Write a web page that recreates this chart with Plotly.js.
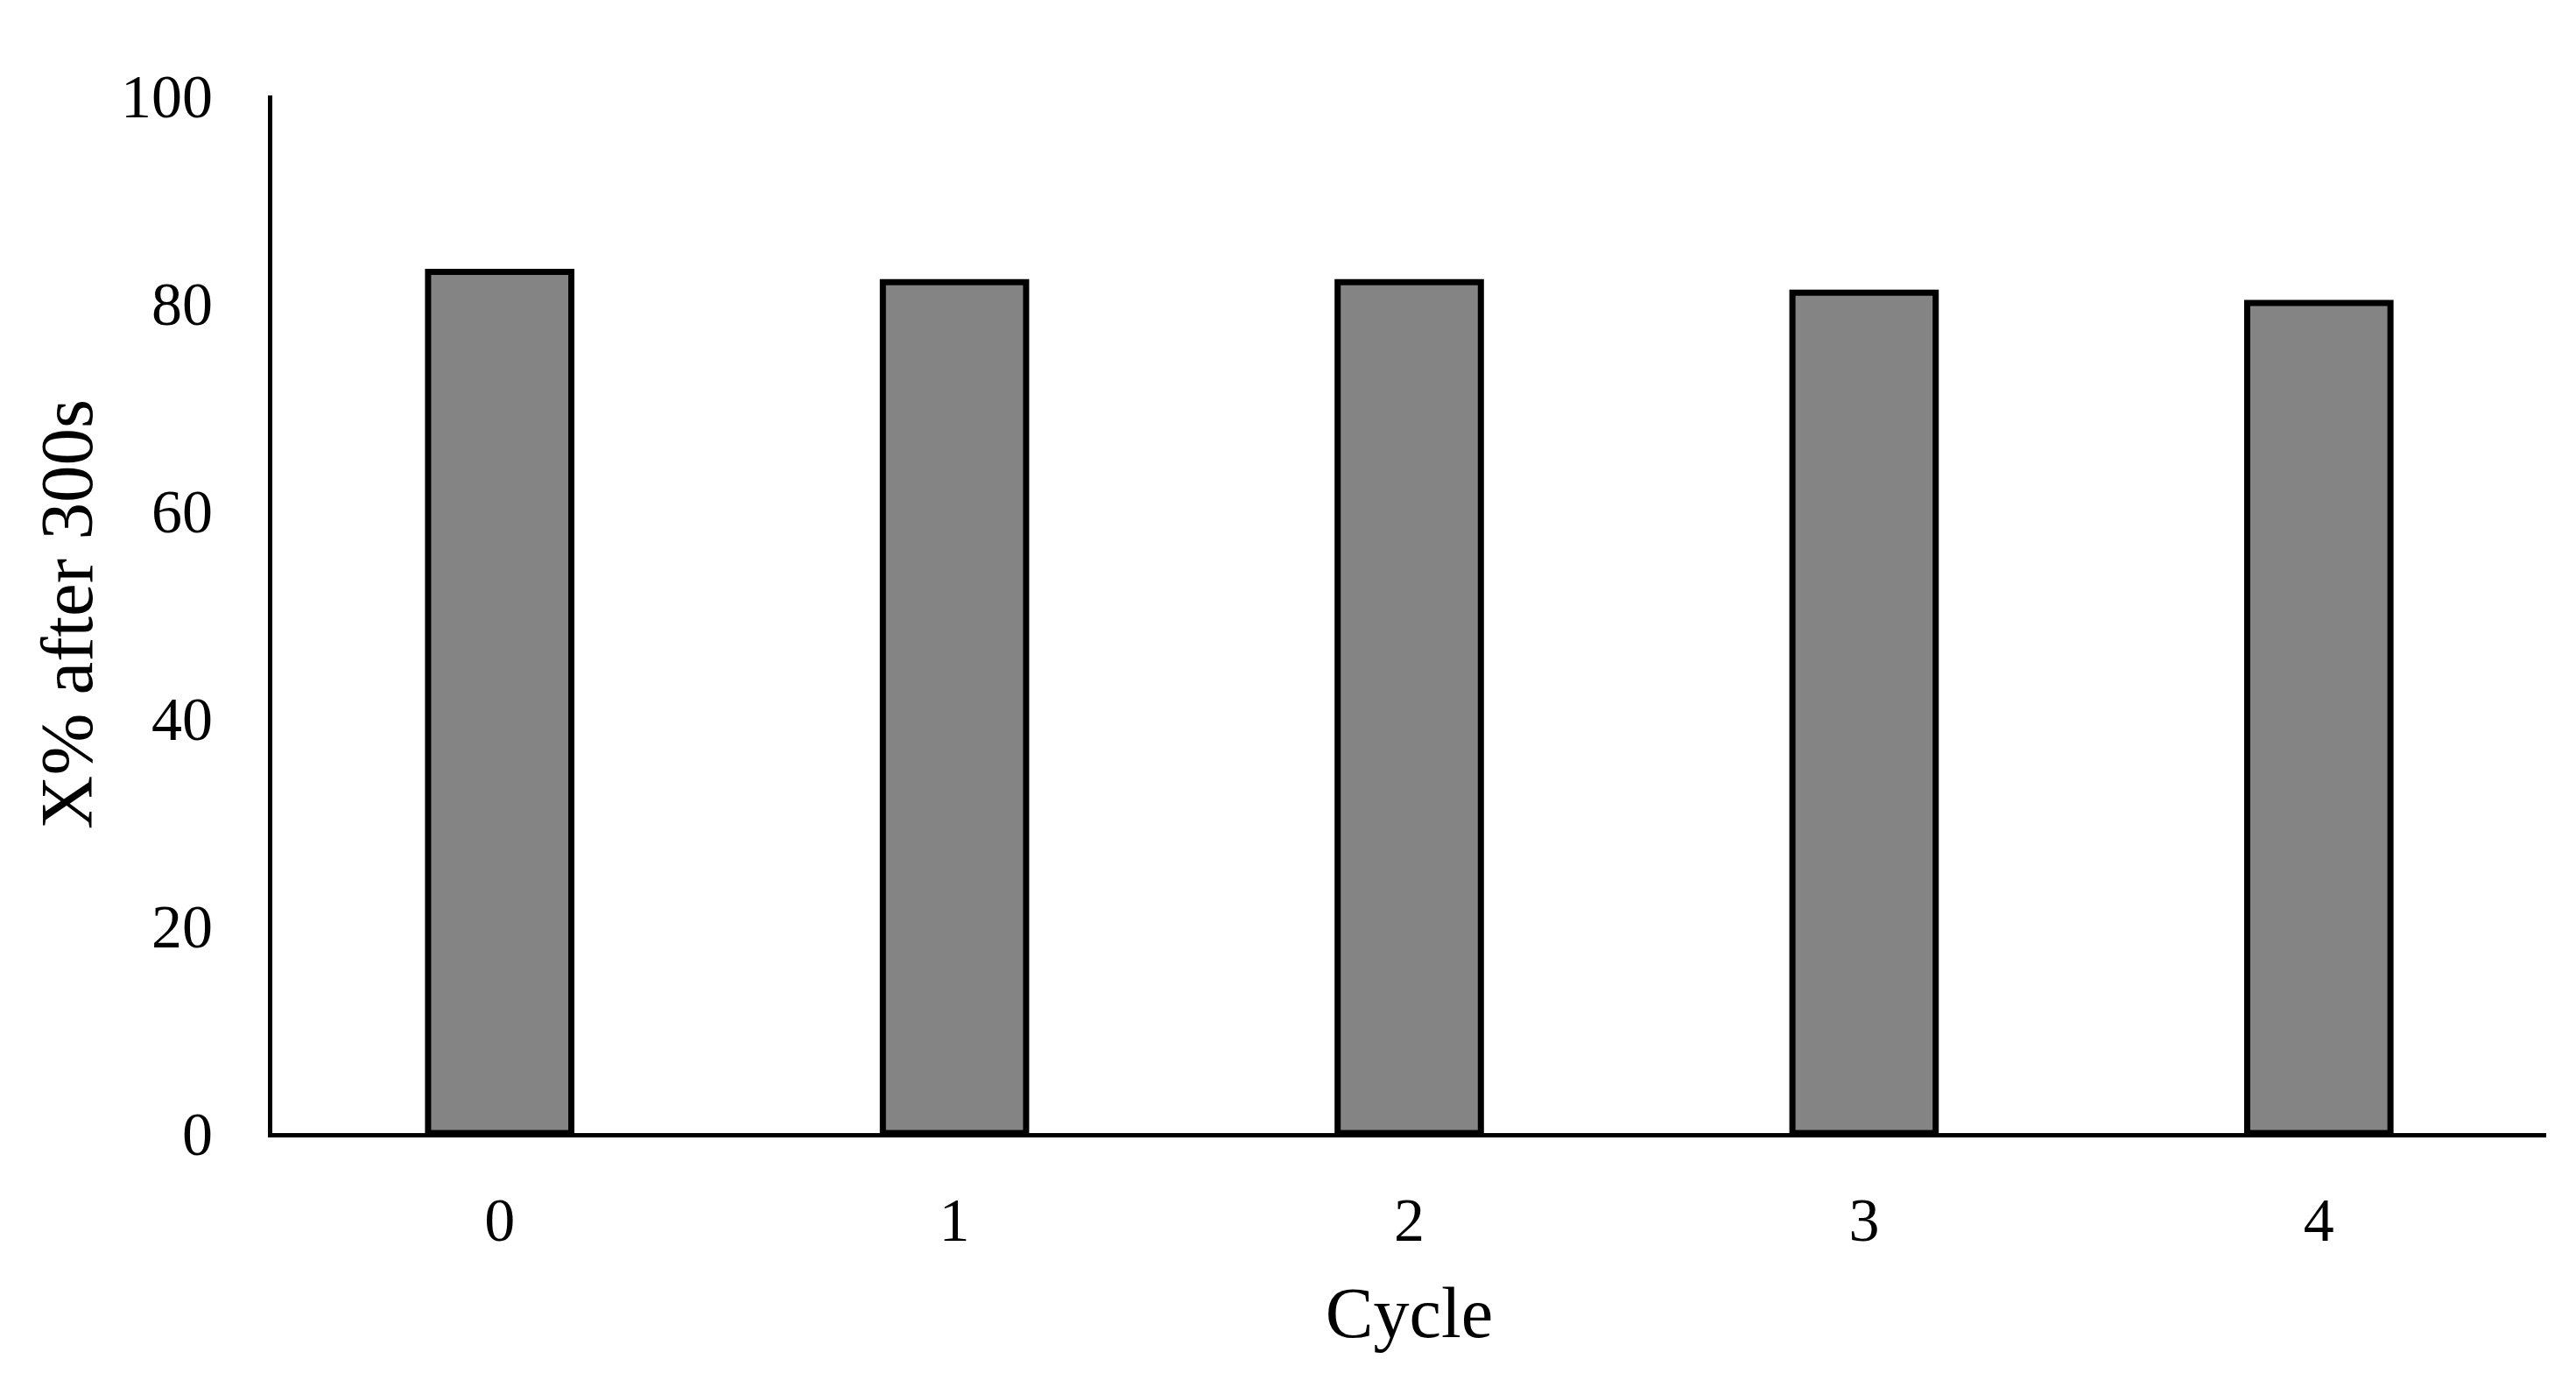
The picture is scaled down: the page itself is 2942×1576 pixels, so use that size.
<!DOCTYPE html>
<html>
<head>
<meta charset="utf-8">
<script src="https://cdn.plot.ly/plotly-3.0.1.min.js"></script>
<style>html,body{margin:0;padding:0;background:#fff;}#chart{width:2942px;height:1576px;}</style>
</head>
<body>
<div id="chart"></div>
<script>
const cycles = ["0", "1", "2", "3", "4"];
const conversion = [83, 82, 82, 81, 80];
const yTickVals = [0, 20, 40, 60, 80, 100];
const xTitle = "Cycle";
const yTitle = "X% after 300s";

const font = "Liberation Serif, Times New Roman, serif";

Plotly.newPlot("chart", [{
  type: "bar",
  x: cycles,
  y: conversion,
  marker: {color: "#848484", line: {color: "#000000", width: 7}},
  width: 0.315,
  hoverinfo: "x+y"
}], {
  width: 2942,
  height: 1576,
  margin: {l: 311, r: 34, t: 109, b: 282},
  paper_bgcolor: "#ffffff",
  plot_bgcolor: "#ffffff",
  showlegend: false,
  font: {family: font, color: "#000000", size: 70},
  xaxis: {
    type: "category",
    range: [-0.5, 4.5],
    showline: true, linecolor: "#000000", linewidth: 5,
    ticks: "", showgrid: false, zeroline: false,
    tickfont: {family: font, size: 70, color: "#000000"},
    ticklabelstandoff: 34,
    title: {text: xTitle, font: {family: font, size: 82, color: "#000000"}, standoff: 40}
  },
  yaxis: {
    range: [0, 100],
    tickvals: yTickVals,
    showline: true, linecolor: "#000000", linewidth: 5,
    ticks: "", showgrid: false, zeroline: false,
    tickfont: {family: font, size: 70, color: "#000000"},
    ticklabelstandoff: 49,
    title: {text: yTitle, font: {family: font, size: 85, color: "#000000"}, standoff: 6}
  }
}, {displayModeBar: false, staticPlot: false});
</script>
</body>
</html>
